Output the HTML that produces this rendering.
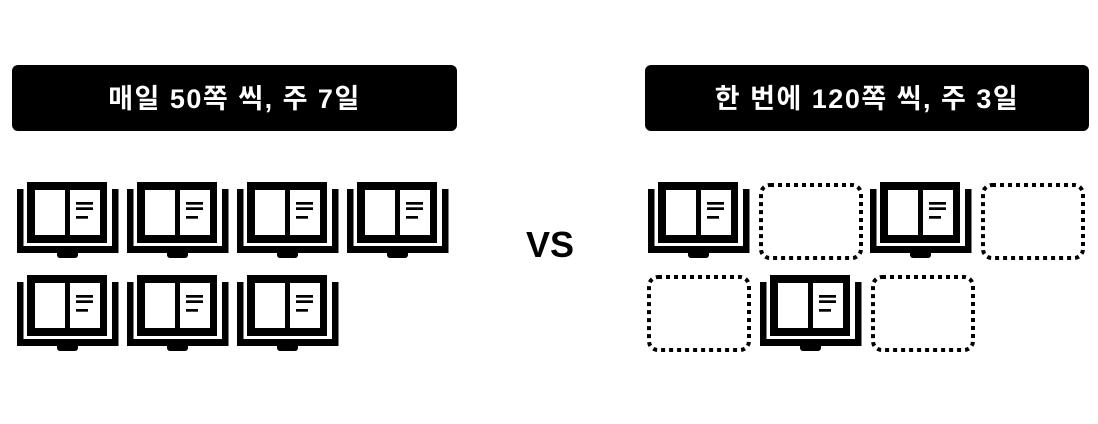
<!DOCTYPE html>
<html><head><meta charset="utf-8"><style>
html,body{margin:0;padding:0;background:#fff;width:1098px;height:424px;overflow:hidden}
</style></head><body>
<svg width="1098" height="424" viewBox="0 0 1098 424" xmlns="http://www.w3.org/2000/svg">
<defs>
<g id="book">
  <rect x="0" y="7" width="6.5" height="64" fill="#000"/>
  <rect x="95" y="7" width="6.5" height="64" fill="#000"/>
  <rect x="0" y="64" width="101.5" height="7" fill="#000"/>
  <rect x="40" y="68" width="21" height="8" rx="3" fill="#000"/>
  <rect x="10" y="0" width="80" height="61" fill="#000"/>
  <rect x="18" y="8" width="65" height="45" fill="#fff"/>
  <rect x="48" y="8" width="5" height="45" fill="#000"/>
  <rect x="59" y="20" width="17" height="2.7" fill="#000"/>
  <rect x="59" y="25.3" width="17" height="2.7" fill="#000"/>
  <rect x="59" y="34" width="12" height="2.7" fill="#000"/>
</g>
<g id="dot">
  <rect x="2" y="2" width="100" height="73" rx="9" fill="none" stroke="#000" stroke-width="4" stroke-dasharray="4 4"/>
</g>
</defs>
<rect x="12" y="65" width="445" height="66" rx="6" fill="#000"/>
<rect x="645" y="65" width="444" height="66" rx="6" fill="#000"/>
<text x="234.5" y="108" text-anchor="middle" fill="#fff" font-family="'Liberation Sans','Noto Sans CJK KR',sans-serif" font-weight="bold" font-size="27" letter-spacing="1.5">매일 50쪽 씩, 주 7일</text>
<text x="867" y="108" text-anchor="middle" fill="#fff" font-family="'Liberation Sans','Noto Sans CJK KR',sans-serif" font-weight="bold" font-size="27" letter-spacing="1.5">한 번에 120쪽 씩, 주 3일</text>
<text x="550" y="257" text-anchor="middle" fill="#000" font-family="'Liberation Sans',sans-serif" font-weight="bold" font-size="36">VS</text>
<use href="#book" x="17" y="182"/>
<use href="#book" x="127" y="182"/>
<use href="#book" x="237" y="182"/>
<use href="#book" x="347" y="182"/>
<use href="#book" x="17" y="275"/>
<use href="#book" x="127" y="275"/>
<use href="#book" x="237" y="275"/>
<use href="#book" x="648" y="182"/>
<use href="#dot" x="759" y="183"/>
<use href="#book" x="870" y="182"/>
<use href="#dot" x="981" y="183"/>
<use href="#dot" x="647" y="275"/>
<use href="#book" x="760" y="275"/>
<use href="#dot" x="871" y="275"/>
</svg>
</body></html>
